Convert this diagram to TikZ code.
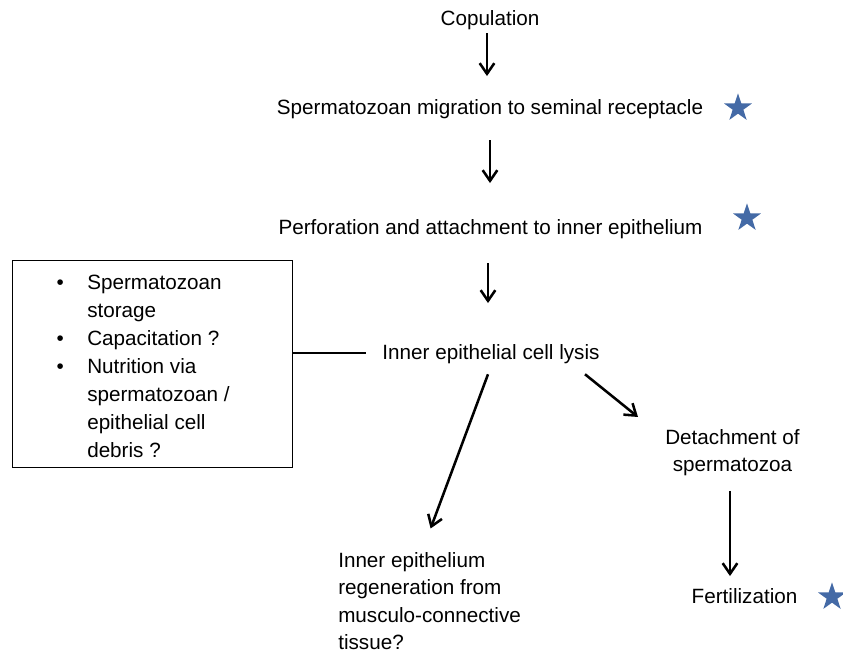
\documentclass[tikz,border=0pt]{standalone}
\usepackage{fontspec}
\setmainfont{Liberation Sans}
\usetikzlibrary{arrows.meta,shapes.geometric,calc}
\definecolor{starblue}{RGB}{68,106,166}
\begin{document}
\begin{tikzpicture}[x=0.75pt,y=-0.75pt,
  lbl/.style={font=\fontsize{15.5pt}{20.6pt}\selectfont, inner sep=0pt, text height=11pt, text depth=3pt, anchor=base},
  mlbl/.style={font=\fontsize{15.5pt}{20.4pt}\selectfont, inner sep=0pt},
  arr/.style={line width=1.9pt, -{Straight Barb[length=8pt,width=11pt,line width=1.9pt]}},
  bluestar/.style={star, star points=5, star point ratio=2.6, fill=starblue, draw=none, inner sep=0pt, minimum size=22pt},
  plainline/.style={line width=1pt}
]
\useasboundingbox (0,0) rectangle (843,655);

% main column
\node[lbl] (cop) at (490,26) {Copulation};
\node[lbl] (mig) at (490,115) {Spermatozoan migration to seminal receptacle};
\node[lbl] (perf) at (490.5,235) {Perforation and attachment to inner epithelium};
\node[lbl] (lysis) at (491,360) {Inner epithelial cell lysis};

% stars
\node[bluestar] (s1) at (738,108) {};
\node[bluestar] (s2) at (747,218) {};
\node[bluestar] (s3) at (832,597) {};

% box with list
\node[draw, plainline, minimum width=210pt, minimum height=155.25pt, inner sep=0pt, anchor=north west] (box) at (11.5,260) {};
\node[mlbl, align=left, anchor=north west, font=\fontsize{15.5pt}{21.1pt}\selectfont] (list) at (87,274.5)
  {\llap{•\hspace{17.5pt}}Spermatozoan\\storage\\\llap{•\hspace{17.5pt}}Capacitation ?\\\llap{•\hspace{17.5pt}}Nutrition via\\spermatozoan /\\epithelial cell\\debris ?};

% lower nodes
\node[mlbl, align=center, anchor=north] (det) at (732.5,429) {Detachment of\\spermatozoa};
\node[lbl] (fert) at (744.5,604) {Fertilization};
\node[mlbl, align=left, anchor=north west] (regen) at (338,552.5)
  {Inner epithelium\\regeneration from\\musculo-connective\\tissue?};

% connectors
\draw[arr] ($(cop.south)+(-3,3)$) -- ($(mig.north)+(-3,-24)$);
\draw[arr] ($(mig.south)+(0,21)$) -- ($(perf.north)+(-0.5,-37)$);
\draw[arr] ($(perf.south)+(-2.5,24)$) -- ($(lysis.north)+(-3,-42)$);
\draw[plainline] ($(lysis.west -| box.east)+(0,-1.5)$) -- ($(lysis.west)+(-16,-1.5)$);
\draw[arr] ($(lysis.south)+(-3,10)$) -- ($(regen.north)+(1,-24)$);
\draw[arr] ($(lysis.south)+(94,10)$) -- ($(det.north)+(-94.5,-12)$);
\draw[arr] ($(det.south)+(-2.5,15)$) -- ($(fert.north)+(-14.5,-13)$);
\end{tikzpicture}
\end{document}
